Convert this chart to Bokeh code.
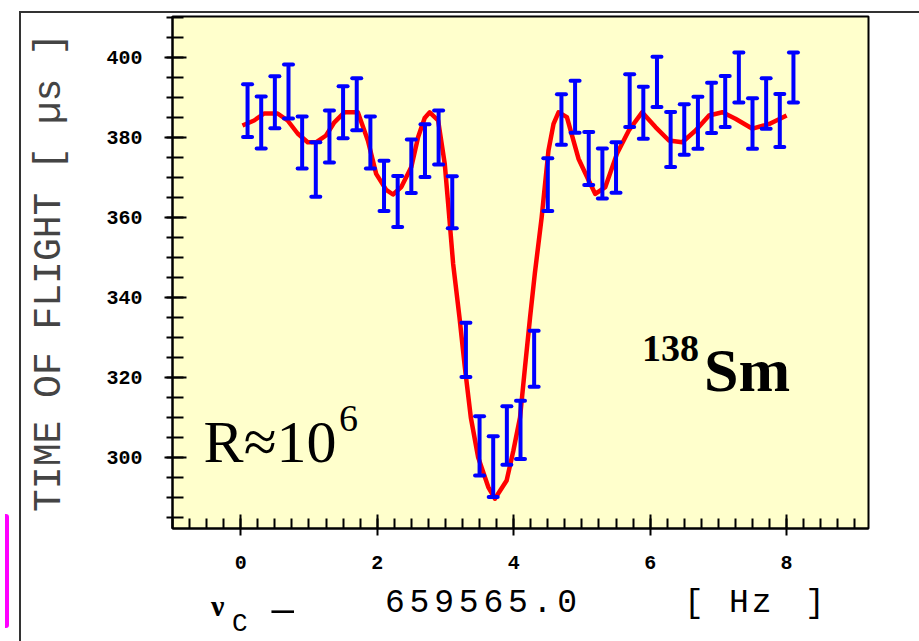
import numpy as np
from bokeh.plotting import figure
from bokeh.layouts import column
from bokeh.models import (ColumnDataSource, Whisker, TeeHead, Label, FixedTicker,
                          Range1d, Div)
from bokeh.embed import file_html
from bokeh.resources import INLINE

# ---- data: measured time of flight (mean, error) vs frequency offset ----
freq = [0.1, 0.3, 0.5, 0.7, 0.9, 1.1, 1.3, 1.5, 1.7, 1.9, 2.1, 2.3, 2.5, 2.7,
        2.9, 3.1, 3.3, 3.5, 3.7, 3.9, 4.1, 4.3, 4.5, 4.7, 4.9, 5.1, 5.3, 5.5,
        5.7, 5.9, 6.1, 6.3, 6.5, 6.7, 6.9, 7.1, 7.3, 7.5, 7.7, 7.9, 8.1]
tof = [386.7, 383.75, 388.8, 391.5, 378.75, 372.0, 380.25, 386.3, 388.3, 378.75,
       367.9, 364.0, 372.8, 376.7, 380.0, 363.8, 326.9, 302.9, 297.7, 305.5,
       306.9, 324.7, 368.2, 384.5, 387.7, 374.75, 371.0, 372.5, 389.2, 386.2,
       393.9, 379.5, 382.0, 383.7, 387.4, 389.0, 395.0, 383.5, 388.5, 384.25, 395.0]
tof_err = [6.6, 6.5, 6.5, 6.75, 6.5, 6.8, 6.5, 6.5, 6.5, 6.5,
           6.3, 6.4, 6.7, 6.6, 6.75, 6.5, 6.8, 7.4, 7.6, 7.3,
           7.3, 7.0, 6.6, 6.3, 6.5, 6.6, 6.25, 6.3, 6.6, 6.5,
           6.3, 6.9, 6.3, 6.5, 6.3, 6.4, 6.25, 6.3, 6.3, 6.65, 6.25]

# ---- fitted resonance curve ----
fit_x = [0.025, 0.196, 0.343, 0.54, 0.687, 0.834, 0.981, 1.103, 1.25, 1.372,
         1.519, 1.716, 1.863, 1.985, 2.132, 2.231, 2.353, 2.5, 2.6, 2.696,
         2.77, 2.893, 2.99, 3.04, 3.113, 3.147, 3.206, 3.284, 3.372, 3.48,
         3.628, 3.725, 3.897, 3.996, 4.093, 4.166, 4.24, 4.31, 4.41, 4.51,
         4.584, 4.657, 4.78, 4.95, 5.1, 5.196, 5.343, 5.515, 5.687, 5.882,
         6.078, 6.275, 6.47, 6.666, 6.863, 7.06, 7.25, 7.5, 7.746, 8.0]
fit_y = [383.0, 384.25, 386.0, 386.0, 384.25, 381.0, 378.8, 378.8, 380.5, 383.8,
         386.3, 386.3, 379.25, 370.9, 366.9, 365.75, 367.6, 372.6, 380.1, 384.9,
         386.3, 384.25, 373.4, 363.4, 348.4, 343.5, 335.0, 322.6, 310.0, 300.0,
         292.6, 289.7, 294.25, 301.75, 310.0, 322.6, 335.0, 346.0, 360.0, 376.75,
         383.4, 386.3, 385.1, 374.7, 369.25, 365.9, 367.6, 376.0, 381.75, 386.3,
         382.6, 379.25, 378.8, 381.75, 385.5, 386.3, 384.7, 382.2, 383.4, 385.5]

x_ticks = [0, 2, 4, 6, 8]
y_ticks = [300, 320, 340, 360, 380, 400]

src = ColumnDataSource(dict(
    x=freq,
    upper=[m + e for m, e in zip(tof, tof_err)],
    lower=[m - e for m, e in zip(tof, tof_err)],
))

PLOT_H = 588
p = figure(width=911, height=PLOT_H, output_backend="svg", toolbar_location=None,
           x_range=Range1d(-1.0, 9.2), y_range=Range1d(282.25, 410.25),
           min_border_left=172, min_border_right=43, min_border_top=16,
           min_border_bottom=PLOT_H - 528)
p.background_fill_color = "#FFFFCC"
p.border_fill_color = "white"
p.outline_line_color = "black"
p.outline_line_width = 2
p.grid.visible = False

mono = "Liberation Mono"
p.xaxis.ticker = FixedTicker(ticks=x_ticks, minor_ticks=list(np.arange(-1.0, 9.21, 0.25)))
p.yaxis.ticker = FixedTicker(ticks=y_ticks, minor_ticks=list(np.arange(285, 410.1, 5)))
for ax in (p.xaxis[0], p.yaxis[0]):
    ax.axis_line_color = "black"
    ax.axis_line_width = 2
    ax.major_tick_line_color = "black"
    ax.major_tick_line_width = 2
    ax.minor_tick_line_color = "black"
    ax.minor_tick_line_width = 2
    ax.major_label_text_font = mono
    ax.major_label_text_font_style = "bold"
    ax.major_label_text_font_size = "20px"
    ax.major_label_text_color = "black"
p.xaxis.major_tick_in = 14
p.xaxis.major_tick_out = 7
p.xaxis.minor_tick_in = 10
p.xaxis.minor_tick_out = 0
p.xaxis.major_label_standoff = 20
p.yaxis.major_tick_in = 14
p.yaxis.major_tick_out = 8
p.yaxis.minor_tick_in = 11
p.yaxis.minor_tick_out = 6
p.yaxis.major_label_standoff = 22
p.yaxis.major_label_orientation = "horizontal"

p.yaxis.axis_label = "TIME OF FLIGHT [ µs ]"
p.yaxis.axis_label_text_font = mono
p.yaxis.axis_label_text_font_style = "normal"
p.yaxis.axis_label_text_font_size = "38px"
p.yaxis.axis_label_standoff = 32

# fit curve
p.line(fit_x, fit_y, line_color="#FF0000", line_width=4.5, line_join="round")

# error bars
wh = Whisker(base="x", upper="upper", lower="lower", source=src,
             line_color="#0000FF", line_width=4, level="annotation",
             upper_head=TeeHead(size=9, line_color="#0000FF", line_width=4, line_cap="round"),
             lower_head=TeeHead(size=9, line_color="#0000FF", line_width=4, line_cap="round"))
p.add_layout(wh)

# in-plot annotations
serif = "Liberation Serif"
p.add_layout(Label(x=-0.544, y=304.0, text="R≈10", text_font=serif,
                   text_font_size="60px", text_color="black",
                   text_baseline="alphabetic", text_align="left"))
p.add_layout(Label(x=1.44, y=309.75, text="6", text_font=serif,
                   text_font_size="38px", text_color="black",
                   text_baseline="alphabetic", text_align="left"))
p.add_layout(Label(x=5.88, y=327.25, text="138", text_font=serif,
                   text_font_style="bold", text_font_size="38px", text_color="black",
                   text_baseline="alphabetic", text_align="left"))
p.add_layout(Label(x=6.79, y=322.0, text="Sm", text_font=serif,
                   text_font_style="bold", text_font_size="62px", text_color="black",
                   text_baseline="alphabetic", text_align="left"))

# x-axis title (HTML, allows the subscript and letter spacing)
def span(left, top, txt, font="Liberation Mono", size=33, extra=""):
    return (f'<span style="position:absolute;left:{left}px;top:{top}px;'
            f'font-family:\'{font}\';font-size:{size}px;line-height:1;'
            f'color:black;white-space:pre;{extra}">{txt}</span>')

top_off = -(PLOT_H - 6)
html = ('<div style="position:relative;width:911px;height:45px;">'
        f'<div style="position:absolute;left:14px;top:{top_off}px;width:903px;'
        f'height:634px;box-sizing:border-box;border:2px solid #333;'
        'border-bottom:none;pointer-events:none;z-index:5;"></div>'
        f'<div style="position:absolute;left:0px;top:{509 - PLOT_H}px;width:4px;'
        'height:114px;background:#FF00FF;border-radius:0 3px 3px 0;"></div>'
        + span(206, -2, "ν", font="Liberation Serif", size=30, extra="font-weight:bold;")
        + span(227, 18, "C", size=26)
        + span(253, 3, "-", extra="display:inline-block;transform:scaleX(2.5);transform-origin:0 0;")
        + span(380, -6, "659565.0", extra="letter-spacing:4.8px;font-weight:500;")
        + span(679, -6, "[")
        + span(724, -6, "Hz", extra="letter-spacing:3px;")
        + span(800, -6, "]")
        + '</div>')
d = Div(text=html, width=911, height=633 - PLOT_H, styles={"overflow": "visible"})

layout = column(p, d, spacing=0)
open("out.html", "w").write(file_html(layout, INLINE))
